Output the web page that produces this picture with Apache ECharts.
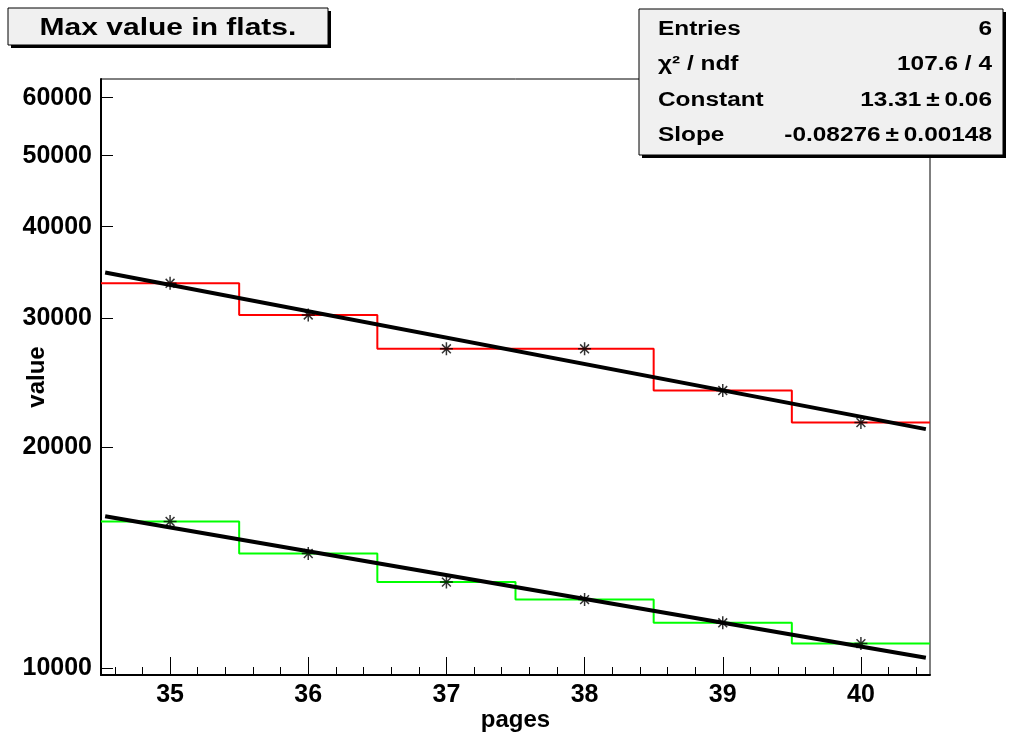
<!DOCTYPE html>
<html>
<head>
<meta charset="utf-8">
<title>Max value in flats.</title>
<script src="https://cdn.jsdelivr.net/npm/echarts@6/dist/echarts.min.js"></script>
<style>
  html, body { margin: 0; padding: 0; background: #fff; }
  #main { width: 1009px; height: 735px; }
</style>
</head>
<body>
<div id="main"></div>
<script>
// bins of the histograms (pages 35..40, width 1)
var binEdges = [34.5, 35.5, 36.5, 37.5, 38.5, 39.5, 40.5];
var pages = [35, 36, 37, 38, 39, 40];
var redValues = [33480, 30310, 27250, 27250, 23900, 21610];
var greenValues = [15840, 14320, 13090, 12390, 11520, 10790];

// fitted lines, end points
var fitX = [34.53, 40.47];
var redFit = [34640, 21170];
var greenFit = [16100, 10320];

// axis ticks
var yTicks = [10000, 20000, 30000, 40000, 50000, 60000];
var xTicks = [35, 36, 37, 38, 39, 40];
var xMinorTicks = [];
for (var t = 34.6; t < 40.5; t += 0.2) {
  var r = Math.round(t * 10) / 10;
  if (r % 1 !== 0) xMinorTicks.push(r);
}

var statsRows = [
  ["Entries", "6"],
  ["\u03c7\u00b2 / ndf", "107.6 / 4"],
  ["Constant", "13.31\u2009\u00b1\u20090.06"],
  ["Slope", "-0.08276\u2009\u00b1\u20090.00148"]
];

var FONT = "Liberation Sans";

function stepData(values) {
  // step 'end' needs the last value repeated at the right edge
  return binEdges.map(function (e, i) {
    return [e, values[Math.min(i, values.length - 1)]];
  });
}

function pointData(values) {
  return pages.map(function (p, i) { return [p, values[i]]; });
}

function lineData(values) {
  return fitX.map(function (x, i) { return [x, values[i]]; });
}

var starPath = "path://M0 5L10 5M5 0L5 10M1.6 1.6L8.4 8.4M8.4 1.6L1.6 8.4";

var chart = echarts.init(document.getElementById("main"), null, { renderer: "canvas" });

var graphics = [
  // title box
  { type: "rect", z: 100, shape: { x: 11, y: 11, width: 320, height: 37 }, style: { fill: "#000" } },
  { type: "rect", z: 101, shape: { x: 8, y: 8, width: 320, height: 37 }, style: { fill: "#f0f0f0", stroke: "#000", lineWidth: 1 } },
  { type: "text", z: 102, x: 168, y: 28, scaleX: 1.25,
    style: { text: "Max value in flats.", font: "bold 24px " + FONT, fill: "#000", align: "center", verticalAlign: "middle" } },
  // stats box
  { type: "rect", z: 100, shape: { x: 642, y: 12, width: 364, height: 146 }, style: { fill: "#000" } },
  { type: "rect", z: 101, shape: { x: 639, y: 9, width: 364, height: 146 }, style: { fill: "#f0f0f0", stroke: "#000", lineWidth: 1 } }
];

statsRows.forEach(function (row, i) {
  var y = 29 + i * 35.5;
  graphics.push({ type: "text", z: 102, x: 658, y: y, scaleX: 1.22,
    style: { text: row[0], font: "bold 20px " + FONT, fill: "#000", align: "left", verticalAlign: "middle" } });
  graphics.push({ type: "text", z: 102, x: 992, y: y, scaleX: 1.22,
    style: { text: row[1], font: "bold 20px " + FONT, fill: "#000", align: "right", verticalAlign: "middle" } });
});

var option = {
  animation: false,
  backgroundColor: "#fff",
  grid: {
    left: 101, right: 79, top: 79, bottom: 60,
    containLabel: false, outerBoundsMode: "none",
    show: true, borderColor: "#000", borderWidth: 1
  },
  xAxis: [
    {
      type: "value", min: 34.5, max: 40.5,
      name: "pages", nameLocation: "middle", nameGap: 33, nameMoveOverlap: false,
      nameTextStyle: { fontFamily: FONT, fontWeight: "bold", fontSize: 24, color: "#000" },
      axisLine: { show: true, onZero: false, lineStyle: { color: "#000", width: 2 } },
      axisTick: { show: true, inside: true, length: 18, customValues: xTicks, lineStyle: { color: "#000", width: 1 } },
      axisLabel: { show: true, customValues: xTicks, margin: 8, fontFamily: FONT, fontWeight: "bold", fontSize: 25, color: "#000" },
      splitLine: { show: false }
    },
    {
      type: "value", min: 34.5, max: 40.5, position: "bottom",
      axisLine: { show: false },
      axisTick: { show: true, inside: true, length: 8, customValues: xMinorTicks, lineStyle: { color: "#000", width: 1 } },
      axisLabel: { show: false },
      splitLine: { show: false }
    }
  ],
  yAxis: {
    type: "log", logBase: 10, min: 9776, max: 63620,
    name: "value", nameLocation: "middle", nameGap: 52, nameRotate: 90, nameMoveOverlap: false,
    nameTextStyle: { fontFamily: FONT, fontWeight: "bold", fontSize: 24, color: "#000" },
    axisLine: { show: true, lineStyle: { color: "#000", width: 2 } },
    axisTick: { show: true, inside: true, length: 12, customValues: yTicks, lineStyle: { color: "#000", width: 1 } },
    axisLabel: {
      show: true, customValues: yTicks, margin: 9,
      fontFamily: FONT, fontWeight: "bold", fontSize: 25, color: "#000",
      formatter: function (v) { return String(Math.round(v)); }
    },
    splitLine: { show: false },
    minorTick: { show: false }
  },
  graphic: graphics,
  series: [
    {
      name: "red", type: "line", step: "end", data: stepData(redValues),
      showSymbol: false, lineStyle: { color: "#ff0000", width: 2 }, z: 2
    },
    {
      name: "green", type: "line", step: "end", data: stepData(greenValues),
      showSymbol: false, lineStyle: { color: "#00ff00", width: 2 }, z: 2
    },
    {
      name: "red fit", type: "line", data: lineData(redFit),
      showSymbol: false, lineStyle: { color: "#000", width: 4 }, z: 3
    },
    {
      name: "green fit", type: "line", data: lineData(greenFit),
      showSymbol: false, lineStyle: { color: "#000", width: 4 }, z: 3
    },
    {
      name: "red points", type: "scatter", data: pointData(redValues),
      symbol: starPath, symbolSize: 13,
      itemStyle: { color: "none", borderColor: "#000", borderWidth: 1.5 }, z: 4
    },
    {
      name: "green points", type: "scatter", data: pointData(greenValues),
      symbol: starPath, symbolSize: 13,
      itemStyle: { color: "none", borderColor: "#000", borderWidth: 1.5 }, z: 4
    }
  ]
};

chart.setOption(option);
</script>
</body>
</html>
